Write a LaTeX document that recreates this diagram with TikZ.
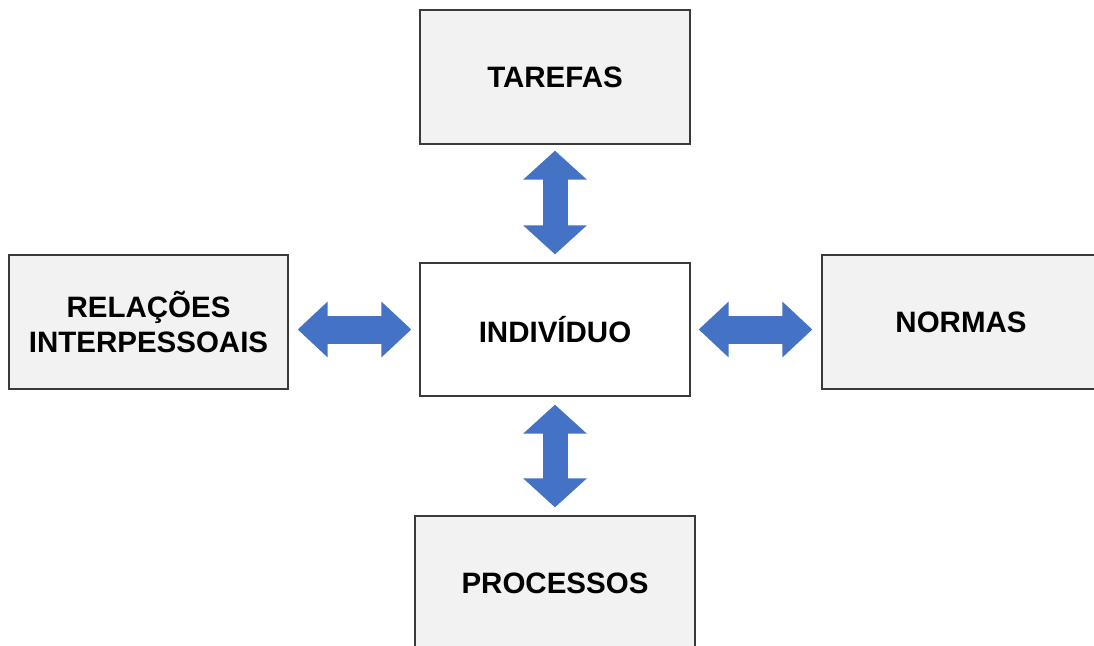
\documentclass[tikz,border=0pt]{standalone}
\usepackage{fontspec}
\setmainfont{Liberation Sans}
\usetikzlibrary{arrows.meta}
\definecolor{boxgray}{HTML}{F2F2F2}
\definecolor{boxline}{HTML}{3A3A3A}
\definecolor{arrblue}{HTML}{4472C4}
\tikzset{
  box/.style={draw=boxline, line width=1.3pt, fill=boxgray, inner sep=0pt,
    align=center, font=\bfseries\fontsize{29.5}{35}\selectfont},
  vblk/.style={draw=arrblue, line width=25pt,
    {Triangle[width=62pt,length=29pt]}-{Triangle[width=62pt,length=29pt]}},
  hblk/.style={draw=arrblue, line width=28pt,
    {Triangle[width=54pt,length=30pt]}-{Triangle[width=54pt,length=30pt]}}
}
\begin{document}
\begin{tikzpicture}[x=1pt,y=-1pt]
\useasboundingbox (0,0) rectangle (1094,645);
\clip (0,0) rectangle (1094,645);
\fill[white] (0,0) rectangle (1094,645);
\node[box, minimum width=270pt, minimum height=134pt] (tar) at (555,77) {TAREFAS};
\node[box, fill=white, minimum width=270pt, minimum height=133pt] (ind) at (555,329.5) {INDIVÍDUO};
\node[box, minimum width=280pt, minimum height=134pt] (proc) at (555,583) {PROCESSOS};
\node[box, minimum width=279pt, minimum height=134pt] (rel) at (148.5,322) {RELAÇÕES\\INTERPESSOAIS};
\node[box, minimum width=278pt, minimum height=134pt] (nor) at (961,322) {NORMAS};
\draw[vblk] ([yshift=-6pt]tar.south) -- ([yshift=8pt]ind.north);
\draw[vblk] ([yshift=-8pt]ind.south) -- ([yshift=8pt]proc.north -| ind.south);
\draw[hblk] ([xshift=9pt]rel.east |- ind.center) -- ([xshift=-8pt]ind.west);
\draw[hblk] ([xshift=8pt]ind.east) -- ([xshift=-9pt]nor.west |- ind.center);
\end{tikzpicture}
\end{document}
